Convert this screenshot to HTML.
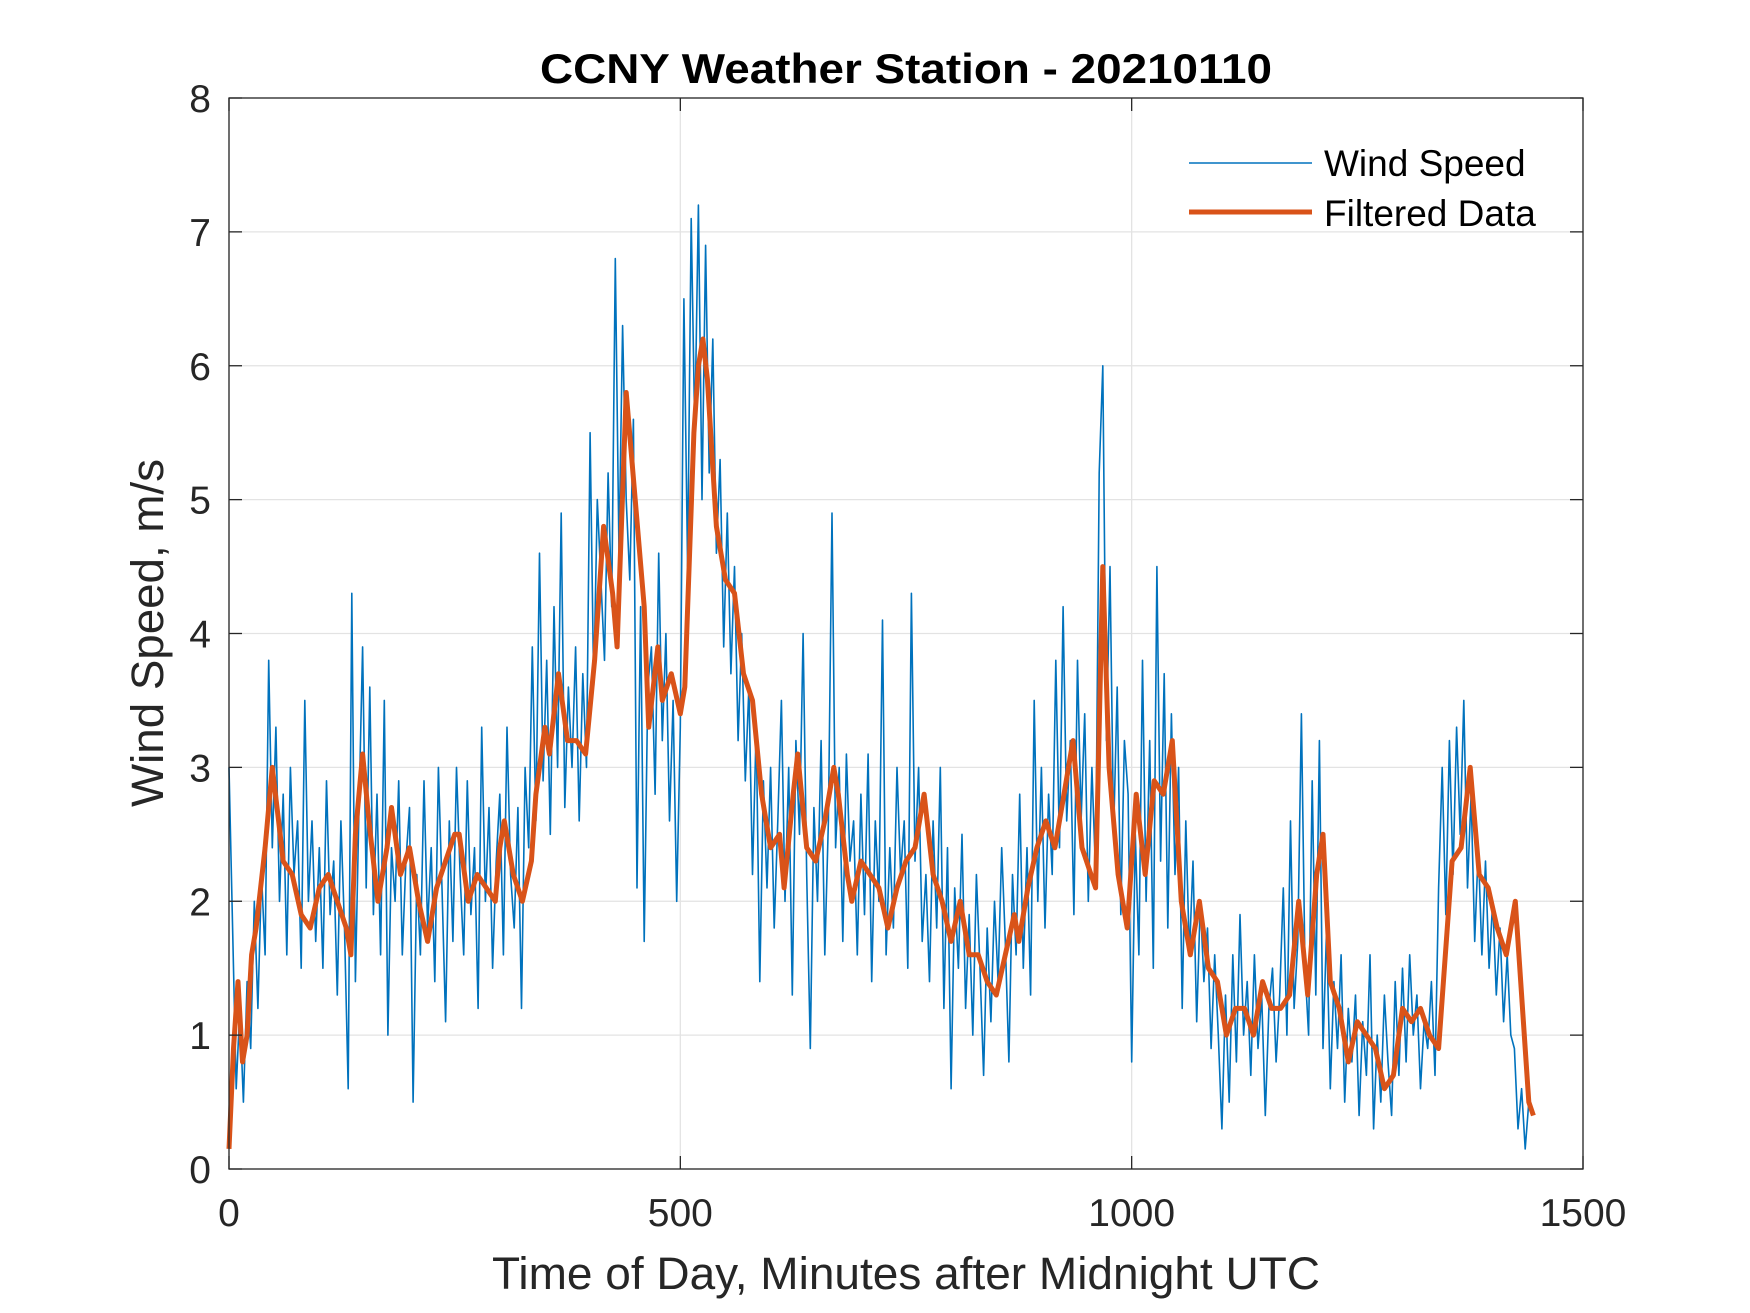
<!DOCTYPE html>
<html><head><meta charset="utf-8"><style>
html,body{margin:0;padding:0;background:#fff;}
svg{display:block;font-family:"Liberation Sans",Arial,sans-serif;}
</style></head><body>
<svg id="chart" width="1750" height="1313" viewBox="0 0 1750 1313">
<rect width="1750" height="1313" fill="#fff"/>
<g id="grid"></g>
<g id="plot"></g>
<g id="axes"></g>
<text x="906" y="83" text-anchor="middle" font-size="42" font-weight="bold" fill="#000" textLength="732" lengthAdjust="spacingAndGlyphs">CCNY Weather Station - 20210110</text>
<text x="906" y="1289" text-anchor="middle" font-size="45" fill="#262626" textLength="828" lengthAdjust="spacingAndGlyphs">Time of Day, Minutes after Midnight UTC</text>
<text transform="translate(163,633) rotate(-90)" text-anchor="middle" font-size="45" fill="#262626" textLength="348" lengthAdjust="spacingAndGlyphs">Wind Speed, m/s</text>
<g>
<line x1="1189" y1="163" x2="1312" y2="163" stroke="#0072BD" stroke-width="1.6"/>
<text x="1324" y="176" font-size="37" fill="#000">Wind Speed</text>
<line x1="1189" y1="212" x2="1312" y2="212" stroke="#D95319" stroke-width="5"/>
<text x="1324" y="226" font-size="37" fill="#000">Filtered Data</text>
</g>
</svg>
<script>
const xTicks=[0,500,1000,1500];
const yTicks=[0,1,2,3,4,5,6,7,8];
const rawStep=4;
const windSpeed=[
3.0,1.8,0.6,1.2,0.5,1.4,0.9,2.0,1.2,2.2,1.6,3.8,2.4,3.3,2.0,2.8,1.6,3.0,2.2,2.6,1.5,3.5,2.0,2.6,1.7,
2.4,1.5,2.9,1.9,2.3,1.3,2.6,1.8,0.6,4.3,1.4,2.7,3.9,2.1,3.6,1.9,2.8,1.6,3.5,1.0,2.4,2.0,2.9,1.6,2.3,
2.7,0.5,2.2,1.6,2.9,1.8,2.4,1.4,3.0,2.1,1.1,2.6,1.7,3.0,2.2,1.6,2.9,1.9,2.4,1.2,3.3,2.0,2.7,1.5,2.3,
2.8,1.6,3.3,2.2,1.8,2.7,1.2,3.0,2.4,3.9,2.6,4.6,2.9,3.8,2.5,4.2,3.0,4.9,2.7,3.6,3.0,3.9,2.6,3.7,3.0,
5.5,3.6,5.0,4.4,3.8,5.2,4.2,6.8,4.6,6.3,5.0,4.4,5.6,2.1,4.2,1.7,3.6,3.9,2.8,4.6,3.2,4.0,2.6,3.5,2.0,
3.3,6.5,4.5,7.1,5.5,7.2,5.0,6.9,5.2,6.2,4.6,5.3,3.9,4.9,3.7,4.5,3.2,4.0,2.9,3.6,2.2,3.3,1.4,2.9,2.1,
3.0,1.8,2.6,3.5,2.0,3.0,1.3,3.2,2.5,4.0,2.2,0.9,2.7,2.0,3.2,1.6,2.6,4.9,2.4,3.0,1.7,3.1,2.3,2.6,1.6,
2.8,1.9,3.1,1.4,2.6,2.0,4.1,1.6,2.4,1.8,3.0,2.2,2.6,1.5,4.3,2.3,3.0,1.7,2.2,1.4,2.6,1.8,3.0,1.2,2.4,
0.6,2.1,1.5,2.5,1.2,1.9,1.0,2.2,1.5,0.7,1.8,1.1,2.0,1.4,2.4,1.7,0.8,2.2,1.6,2.8,1.5,2.4,1.3,3.5,2.0,
3.0,1.8,2.8,2.2,3.8,2.4,4.2,2.6,3.2,1.9,3.8,2.6,3.4,2.0,3.0,2.2,5.2,6.0,3.2,4.5,2.5,3.6,1.9,3.2,2.8,
0.8,2.5,1.6,3.8,2.0,3.2,1.5,4.5,2.3,3.7,1.8,3.4,2.2,3.0,1.2,2.6,1.6,2.3,1.1,2.0,1.4,1.8,0.9,1.6,1.0,
0.3,1.3,0.5,1.6,0.8,1.9,1.0,1.4,0.7,1.6,0.9,1.3,0.4,1.2,1.5,0.8,1.3,2.1,1.0,2.6,1.2,1.7,3.4,1.5,1.0,
2.9,1.3,3.2,0.9,1.8,0.6,1.4,0.9,1.6,0.5,1.2,0.8,1.3,0.4,1.1,0.7,1.6,0.3,1.0,0.5,1.3,0.8,0.4,1.4,0.7,
1.5,0.8,1.6,1.0,1.3,0.6,1.1,0.9,1.4,0.7,2.1,3.0,1.9,3.2,2.2,3.3,2.5,3.5,2.1,2.8,1.7,2.4,1.6,2.3,1.5,
2.0,1.3,1.8,1.1,1.6,1.0,0.9,0.3,0.6,0.15,0.5];
const filtT=[0,5,10,15,20,25,30,40,48,55,60,70,80,90,100,110,120,130,135,140,148,155,165,175,180,190,200,210,220,230,240,250,255,265,275,285,295,300,305,315,325,335,340,350,355,365,375,385,395,405,415,425,430,440,450,460,465,470,475,480,490,500,505,515,520,525,530,540,550,560,570,580,590,600,610,615,625,630,640,650,660,670,675,685,690,700,710,720,730,740,750,760,770,780,790,800,810,820,830,840,850,860,870,875,885,895,905,915,925,935,945,955,960,968,975,985,995,1005,1015,1025,1035,1045,1055,1065,1075,1085,1095,1105,1115,1125,1135,1145,1155,1165,1175,1185,1195,1205,1212,1220,1230,1240,1250,1260,1270,1280,1290,1300,1310,1320,1330,1340,1355,1365,1375,1385,1395,1405,1415,1425,1430,1440,1445];
const filtV=[0.15,0.9,1.4,0.8,1.0,1.6,1.8,2.4,3.0,2.6,2.3,2.2,1.9,1.8,2.1,2.2,2.0,1.8,1.6,2.5,3.1,2.6,2.0,2.4,2.7,2.2,2.4,2.0,1.7,2.1,2.3,2.5,2.5,2.0,2.2,2.1,2.0,2.4,2.6,2.2,2.0,2.3,2.8,3.3,3.1,3.7,3.2,3.2,3.1,3.8,4.8,4.3,3.9,5.8,5.0,4.2,3.3,3.6,3.9,3.5,3.7,3.4,3.6,5.5,6.0,6.2,5.9,4.8,4.4,4.3,3.7,3.5,2.8,2.4,2.5,2.1,2.8,3.1,2.4,2.3,2.6,3.0,2.8,2.2,2.0,2.3,2.2,2.1,1.8,2.1,2.3,2.4,2.8,2.2,2.0,1.7,2.0,1.6,1.6,1.4,1.3,1.6,1.9,1.7,2.1,2.4,2.6,2.4,2.8,3.2,2.4,2.2,2.1,4.5,3.0,2.2,1.8,2.8,2.2,2.9,2.8,3.2,2.0,1.6,2.0,1.5,1.4,1.0,1.2,1.2,1.0,1.4,1.2,1.2,1.3,2.0,1.3,2.2,2.5,1.4,1.2,0.8,1.1,1.0,0.9,0.6,0.7,1.2,1.1,1.2,1.0,0.9,2.3,2.4,3.0,2.2,2.1,1.8,1.6,2.0,1.5,0.5,0.4];

const L=229,R=1583,T=98,B=1169;
const xS=v=>L+(v-0)/(1500-0)*(R-L);
const yS=v=>B-(v-0)/(8-0)*(B-T);
const NS='http://www.w3.org/2000/svg';
function mk(tag,attrs,parent){const e=document.createElementNS(NS,tag);for(const k in attrs)e.setAttribute(k,attrs[k]);parent.appendChild(e);return e;}
const grid=document.getElementById('grid'),plot=document.getElementById('plot'),axes=document.getElementById('axes');
xTicks.forEach(t=>{
 const g=mk('line',{x1:xS(t),x2:xS(t),y1:T,y2:B,stroke:'#e3e3e3','stroke-width':1.3},grid);
 
 
 const a=mk('line',{x1:xS(t),x2:xS(t),y1:B,y2:B-13,stroke:'#262626','stroke-width':1.3},axes);
 
 
 const b=mk('line',{x1:xS(t),x2:xS(t),y1:T,y2:T+13,stroke:'#262626','stroke-width':1.3},axes);
 
 
 const tx=mk('text',{x:xS(t),y:1226,'text-anchor':'middle','font-size':39,fill:'#262626'},axes);
 tx.textContent=t;
 
 
});
yTicks.forEach(t=>{
 const g=mk('line',{x1:L,x2:R,y1:yS(t),y2:yS(t),stroke:'#e3e3e3','stroke-width':1.3},grid);
 
 
 const a=mk('line',{x1:L,x2:L+13,y1:yS(t),y2:yS(t),stroke:'#262626','stroke-width':1.3},axes);
 
 
 const b=mk('line',{x1:R,x2:R-13,y1:yS(t),y2:yS(t),stroke:'#262626','stroke-width':1.3},axes);
 
 
 const tx=mk('text',{x:211,y:yS(t)+14,'text-anchor':'end','font-size':39,fill:'#262626'},axes);
 tx.textContent=t;
 
 
});
const box=mk('rect',{x:L,y:T,width:R-L,height:B-T,fill:'none',stroke:'#262626','stroke-width':1.3},axes);


const rawPts=windSpeed.map((v,i)=>xS(i*rawStep).toFixed(1)+','+yS(v).toFixed(1)).join(' ');
const raw=mk('polyline',{points:rawPts,fill:'none',stroke:'#0072BD','stroke-width':1.6,'stroke-linejoin':'round'},plot);


const fPts=filtV.map((v,i)=>xS(filtT[i]).toFixed(1)+','+yS(v).toFixed(1)).join(' ');
const fl=mk('polyline',{points:fPts,fill:'none',stroke:'#D95319','stroke-width':5,'stroke-linejoin':'round'},plot);


</script>
</body></html>
